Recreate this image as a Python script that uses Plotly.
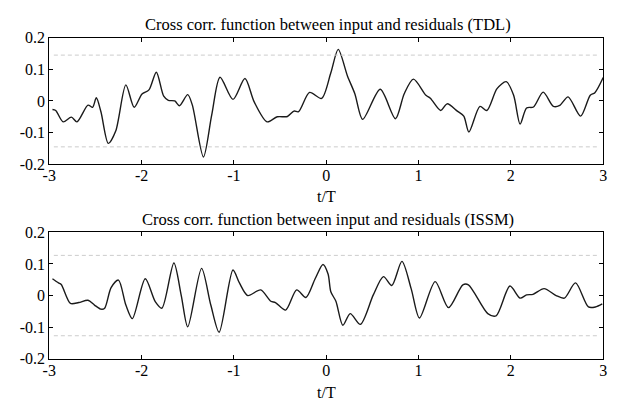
import plotly.graph_objects as go

# ---- data ----
tdl_t = [-2.965, -2.93, -2.85, -2.76, -2.70, -2.58, -2.53, -2.49, -2.44, -2.36, -2.28, -2.17,
         -2.08, -1.995, -1.92, -1.84, -1.76, -1.71, -1.64, -1.59, -1.50, -1.45, -1.33, -1.24,
         -1.15, -1.01, -0.88, -0.78, -0.64, -0.53, -0.42, -0.35, -0.30, -0.18, -0.05, 0.05,
         0.13, 0.23, 0.31, 0.395, 0.585, 0.75, 0.845, 0.945, 1.08, 1.13, 1.24, 1.31, 1.42,
         1.49, 1.545, 1.665, 1.74, 1.85, 1.95, 2.03, 2.10, 2.17, 2.245, 2.35, 2.46, 2.53,
         2.62, 2.755, 2.86, 2.91, 3.0]
tdl_v = [-0.027, -0.03, -0.066, -0.051, -0.066, -0.013, -0.02, 0.01, -0.034, -0.134, -0.095, 0.051,
         -0.02, 0.022, 0.035, 0.091, 0.015, 0.002, 0.0, -0.015, 0.02, -0.013, -0.177, -0.044,
         0.075, 0.005, 0.071, -0.003, -0.066, -0.05, -0.049, -0.032, -0.034, 0.027, 0.008, 0.089,
         0.163, 0.079, 0.023, -0.058, 0.037, -0.056, 0.023, 0.069, 0.018, 0.008, -0.03, -0.009, -0.032,
         -0.048, -0.098, -0.017, -0.03, 0.039, 0.061, 0.018, -0.073, -0.022, -0.019, 0.028, -0.017, -0.014,
         0.013, -0.048, 0.018, 0.026, 0.074]

issm_t = [-2.965, -2.90, -2.87, -2.77, -2.68, -2.58, -2.51, -2.44, -2.40, -2.33, -2.25, -2.17,
          -2.10, -1.96, -1.85, -1.78, -1.65, -1.57, -1.50, -1.35, -1.25, -1.16, -1.01, -0.94,
          -0.85, -0.71, -0.60, -0.55, -0.44, -0.32, -0.22, -0.12, -0.035, 0.02, 0.05, 0.105,
          0.18, 0.26, 0.37, 0.51, 0.62, 0.71, 0.82, 0.92, 1.01, 1.18, 1.325, 1.48, 1.54,
          1.75, 1.84, 1.99, 2.10, 2.17, 2.24, 2.36, 2.49, 2.58, 2.70, 2.84, 2.915, 2.99]
issm_v = [0.053, 0.04, 0.035, -0.025, -0.022, -0.015, -0.03, -0.043, -0.04, 0.025, 0.049, -0.03,
          -0.073, 0.053, -0.02, -0.04, 0.103, 0.0, -0.099, 0.086, -0.03, -0.116, 0.081, 0.04,
          0.0, 0.018, -0.018, -0.022, -0.046, 0.018, -0.006, 0.053, 0.098, 0.068, 0.012, -0.018,
          -0.094, -0.057, -0.091, 0.002, 0.06, 0.032, 0.108, 0.022, -0.071, 0.044, -0.038, 0.034, 0.034,
          -0.057, -0.064, 0.03, -0.008, 0.002, 0.004, 0.022, 0.0, -0.008, 0.04, -0.036, -0.036, -0.026]

tdl_conf = 0.145
issm_conf = 0.127
conf_x = [-2.95, 2.95]

x_ticks = [-3, -2, -1, 0, 1, 2, 3]
x_ticktext = ["-3", "-2", "-1", "0", "1", "2", "3"]
y_ticks = [-0.2, -0.1, 0, 0.1, 0.2]
y_ticktext = ["-0.2", "-0.1", "0", "0.1", "0.2"]

titles = ["Cross corr. function between input and residuals (TDL)",
          "Cross corr. function between input and residuals (ISSM)"]
xlabel = "t/T"

FONT = "Liberation Serif"
W, H = 618, 410

fig = go.Figure()
curve_style = dict(color="#1a1a1a", width=1.4, shape="spline", smoothing=0.8)
conf_style = dict(color="#cccccc", width=1, dash="4px,3px")

fig.add_trace(go.Scatter(x=tdl_t, y=tdl_v, mode="lines", line=curve_style, xaxis="x", yaxis="y"))
for s in (1, -1):
    fig.add_trace(go.Scatter(x=conf_x, y=[s * tdl_conf] * 2, mode="lines", line=conf_style,
                             xaxis="x", yaxis="y"))
fig.add_trace(go.Scatter(x=issm_t, y=issm_v, mode="lines", line=curve_style, xaxis="x2", yaxis="y2"))
for s in (1, -1):
    fig.add_trace(go.Scatter(x=conf_x, y=[s * issm_conf] * 2, mode="lines", line=conf_style,
                             xaxis="x2", yaxis="y2"))

x_dom = [43 / W, 607 / W]
top_dom = [1 - 163 / H, 1 - 31 / H]
bot_dom = [1 - 366 / H, 1 - 234 / H]

axis_common = dict(showline=True, linecolor="black", linewidth=1, mirror="ticks",
                   ticks="inside", ticklen=4, tickcolor="black", showgrid=False, zeroline=False,
                   tickfont=dict(family=FONT, size=16, color="black"))

fig.update_layout(
    width=W, height=H, margin=dict(l=0, r=0, t=0, b=0),
    paper_bgcolor="white", plot_bgcolor="white", showlegend=False,
    font=dict(family=FONT, color="black"),
    xaxis=dict(domain=x_dom, range=[-3, 3], tickvals=x_ticks, ticktext=x_ticktext,
               anchor="y", ticklabelstandoff=-3, **axis_common),
    yaxis=dict(domain=top_dom, range=[-0.2, 0.2], tickvals=y_ticks, ticktext=y_ticktext,
               anchor="x", **axis_common),
    xaxis2=dict(domain=x_dom, range=[-3, 3], tickvals=x_ticks, ticktext=x_ticktext,
                anchor="y2", ticklabelstandoff=-3, **axis_common),
    yaxis2=dict(domain=bot_dom, range=[-0.2, 0.2], tickvals=y_ticks, ticktext=y_ticktext,
                anchor="x2", **axis_common),
)

ann = []
for txt, y in ((titles[0], 17), (titles[1], 221)):
    ann.append(dict(text=txt, x=327 / W, y=1 - y / H, xref="paper", yref="paper",
                    xanchor="center", yanchor="middle", showarrow=False,
                    font=dict(family=FONT, size=16.5, color="black")))
for y in (197, 401):
    ann.append(dict(text=xlabel, x=325 / W, y=1 - y / H, xref="paper", yref="paper",
                    xanchor="center", yanchor="middle", showarrow=False,
                    font=dict(family=FONT, size=16, color="black")))
fig.update_layout(annotations=ann)

fig.write_html("out.html")
